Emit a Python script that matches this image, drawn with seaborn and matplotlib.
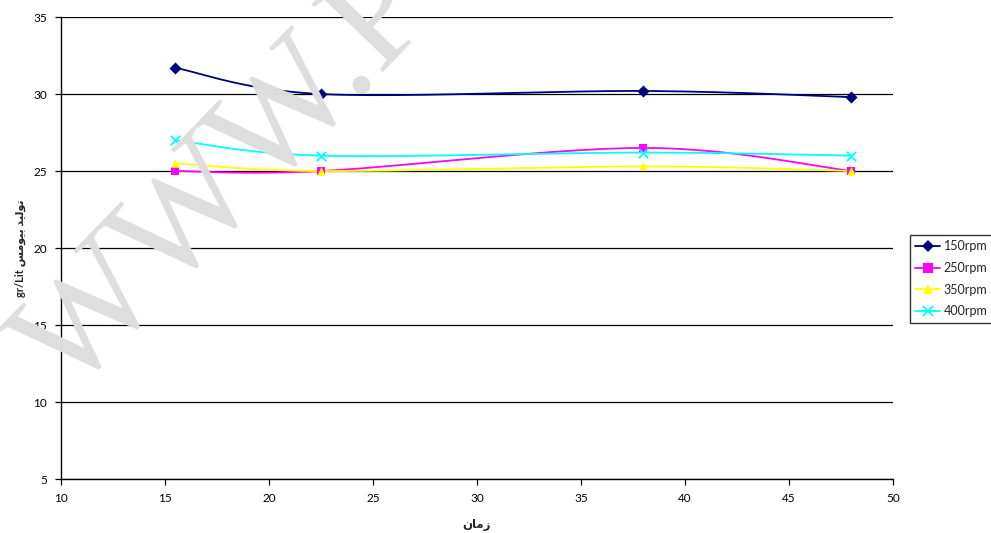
import numpy as np
import pandas as pd
import matplotlib
matplotlib.use("Agg")
import matplotlib.pyplot as plt
from matplotlib.lines import Line2D
import seaborn as sns

# Sampling times and biomass per agitation speed
times = [15.5, 22.5, 38, 48]
series_names = ["150rpm", "250rpm", "350rpm", "400rpm"]
biomass_150 = [31.7, 30.0, 30.2, 29.8]
biomass_250 = [25.0, 25.0, 26.5, 25.0]
biomass_350 = [25.5, 25.0, 25.3, 25.0]
biomass_400 = [27.0, 26.0, 26.2, 26.0]

colors = ["#000080", "#FF00FF", "#FFFF00", "#00FFFF"]
markers = ["D", "s", "^", "x"]

# Pre-shaped Persian labels (presentation forms, visual order)
ylabel_fa = "\uFEB2\uFEE3\uFEEE\uFEF4\uFE91 \uFEAA\uFEF4\uFEDF\uFEEE\uFE97"
xlabel_fa = "\uFEE5\uFE8E\uFEE3\uFEAF"


def smooth_curve(xs, ys, n=60):
    """Bezier smoothing through every point (spreadsheet-style)."""
    pts = np.column_stack([xs, ys]).astype(float)
    ext = np.vstack([pts[0], pts, pts[-1]])
    out = []
    t = np.linspace(0, 1, n)[:, None]
    for i in range(1, len(ext) - 2):
        p0, p1, p2, p3 = ext[i - 1], ext[i], ext[i + 1], ext[i + 2]
        c1 = p1 + (p2 - p0) / 6.0
        c2 = p2 - (p3 - p1) / 6.0
        seg = ((1 - t) ** 3) * p1 + 3 * ((1 - t) ** 2) * t * c1 \
            + 3 * (1 - t) * t ** 2 * c2 + t ** 3 * p2
        out.append(seg if i == 1 else seg[1:])
    seg = np.vstack(out)
    return seg[:, 0], seg[:, 1]


sns.set_theme(style="white")
plt.rcParams["font.family"] = ["Lato", "DejaVu Sans"]

values = [biomass_150, biomass_250, biomass_350, biomass_400]
points = pd.DataFrame({
    "time": np.tile(times, len(series_names)),
    "biomass": np.concatenate(values),
    "speed": np.repeat(series_names, len(times)),
})
curves = []
for name, vals in zip(series_names, values):
    sx, sy = smooth_curve(times, vals)
    curves.append(pd.DataFrame({"time": sx, "biomass": sy, "speed": name}))
curves = pd.concat(curves, ignore_index=True)

fig = plt.figure(figsize=(9.91, 5.33), dpi=100)
fig.patch.set_facecolor("white")
ax = fig.add_axes([0.0616, 0.1013, 0.8394, 0.8667])
ax.patch.set_alpha(0)

# Diagonal watermark behind the plot
fig.text(0.230, 0.660, "WWW.P", fontsize=108, family="Liberation Serif",
         color="#dedede", rotation=46, ha="center", va="center",
         rotation_mode="anchor", zorder=0)

palette = dict(zip(series_names, colors))
sns.lineplot(data=curves, x="time", y="biomass", hue="speed", palette=palette,
             estimator=None, sort=False, linewidth=1.3, legend=False, ax=ax,
             zorder=3)
for name, color, marker in zip(series_names, colors, markers):
    sub = points[points["speed"] == name]
    line_art = marker == "x"
    sns.scatterplot(data=sub, x="time", y="biomass", color=color,
                    marker=marker, s=38 if not line_art else 45,
                    linewidth=1.3 if line_art else 0, legend=False, ax=ax,
                    zorder=4)

ax.set_xlim(10, 50)
ax.set_ylim(5, 35)
ax.set_xticks(range(10, 51, 5))
ax.set_yticks(range(5, 36, 5))
ax.yaxis.grid(True, color="black", linewidth=0.9)
ax.xaxis.grid(False)
ax.set_axisbelow(True)
for side in ["top", "right"]:
    ax.spines[side].set_visible(False)
for side in ["left", "bottom"]:
    ax.spines[side].set_color("black")
    ax.spines[side].set_linewidth(1.0)
ax.tick_params(axis="both", which="major", direction="out", length=4,
               width=0.9, color="black", labelsize=8.5, labelcolor="black",
               left=True, bottom=True, pad=6)

ax.set_xlabel(xlabel_fa, fontsize=8.5, fontweight="bold",
              family=["DejaVu Sans"], labelpad=10)
ax.set_ylabel("gr/Lit " + ylabel_fa, fontsize=8, fontweight="bold",
              family=["Lato", "DejaVu Sans"], labelpad=5)

handles = [Line2D([0], [0], color=c, marker=m, markersize=6.5,
                  markeredgewidth=1.3 if m == "x" else 0, linewidth=1.3)
           for c, m in zip(colors, markers)]
leg = fig.legend(handles, series_names, loc="center left",
                 bbox_to_anchor=(0.918, 0.477), frameon=True, fancybox=False,
                 edgecolor="black", fontsize=9, handlelength=2.0,
                 handletextpad=0.25, borderpad=0.45, labelspacing=0.78,
                 borderaxespad=0)
leg.get_frame().set_linewidth(1.0)

fig.savefig("out.png", dpi=100, facecolor="white")
